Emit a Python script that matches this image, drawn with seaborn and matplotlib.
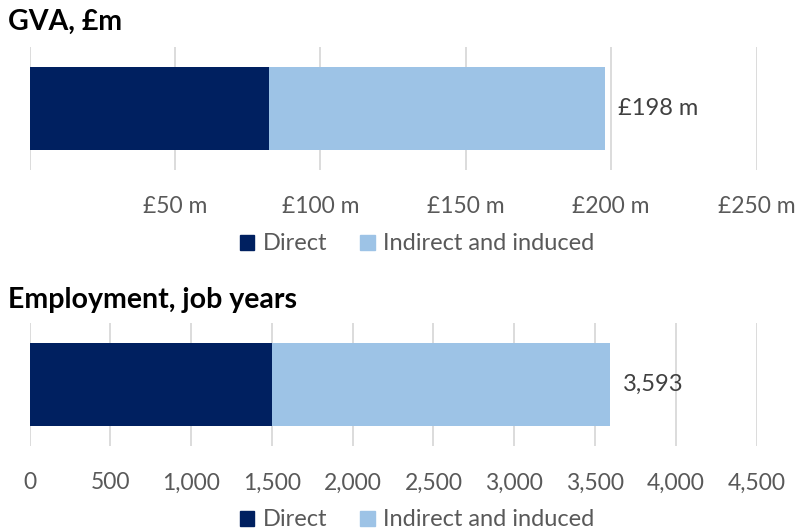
import numpy as np
import pandas as pd
import matplotlib
matplotlib.use('Agg')
import matplotlib.pyplot as plt
import matplotlib.ticker as mticker
from matplotlib.patches import Patch
import seaborn as sns

# Dados
series = ['Direct', 'Indirect and induced']
gva_direct = [82.4]
gva_indirect = [115.6]
emp_direct = [1500]
emp_indirect = [2093]

gva_ticks = [0, 50, 100, 150, 200, 250]
emp_ticks = [0, 500, 1000, 1500, 2000, 2500, 3000, 3500, 4000, 4500]

c_direct = '#002060'
c_indirect = '#9dc3e6'
c_text = '#595959'

sns.set_theme(style='white')
plt.rcParams['font.family'] = ['Lato', 'DejaVu Sans']

fig = plt.figure(figsize=(7.99, 5.31), dpi=100)
W, H = 799, 531


def painel(top_px, direct, indirect, ticks, fmt, title, label, title_y):
    ax = fig.add_axes([29.5 / W, 1 - (top_px + 123) / H, 727 / W, 123 / H])
    df = pd.DataFrame({'cat': ['a'], 'direct': direct,
                       'total': np.array(direct) + np.array(indirect)})
    sns.barplot(data=df, x='total', y='cat', color=c_indirect, width=0.675,
                saturation=1, ax=ax, orient='h', linewidth=0)
    sns.barplot(data=df, x='direct', y='cat', color=c_direct, width=0.675,
                saturation=1, ax=ax, orient='h', linewidth=0)
    ax.set_xlim(ticks[0], ticks[-1])
    ax.set_ylim(0.5, -0.5)
    ax.set_xticks(ticks)
    ax.xaxis.set_major_formatter(mticker.FuncFormatter(fmt))
    ax.tick_params(axis='x', length=0, pad=19, labelsize=16.5, labelcolor=c_text)
    ax.set_yticks([])
    ax.set_xlabel('')
    ax.set_ylabel('')
    for s in ax.spines.values():
        s.set_visible(False)
    ax.grid(axis='x', color='#d9d9d9', linewidth=1.3)
    ax.set_axisbelow(True)
    total = df['total'].iloc[0]
    ax.annotate(label, xy=(total, 0), xytext=(9, 0), textcoords='offset points',
                va='center', ha='left', fontsize=17, color='#404040')
    fig.text(8 / W, 1 - title_y / H, title, fontsize=20.5, fontweight='bold',
             color='black', va='center', ha='left')
    return ax


def fmt_gva(v, pos):
    return '' if v == 0 else '£{:,.0f} m'.format(v)


def fmt_emp(v, pos):
    return '{:,.0f}'.format(v)


painel(47, gva_direct, gva_indirect, gva_ticks, fmt_gva, 'GVA, £m',
       '£{:.0f} m'.format(gva_direct[0] + gva_indirect[0]), 22)
painel(323, emp_direct, emp_indirect, emp_ticks, fmt_emp, 'Employment, job years',
       '{:,.0f}'.format(emp_direct[0] + emp_indirect[0]), 300)

handles = [Patch(color=c_direct, label=series[0]),
           Patch(color=c_indirect, label=series[1])]
for y in (244, 520):
    fig.legend(handles=handles, loc='center', bbox_to_anchor=(417 / W, 1 - y / H),
               ncol=2, frameon=False, fontsize=17, handlelength=0.62,
               handleheight=0.62, handletextpad=0.35, columnspacing=1.4,
               labelcolor=c_text, borderaxespad=0, borderpad=0)

fig.savefig('out.png', dpi=100)
